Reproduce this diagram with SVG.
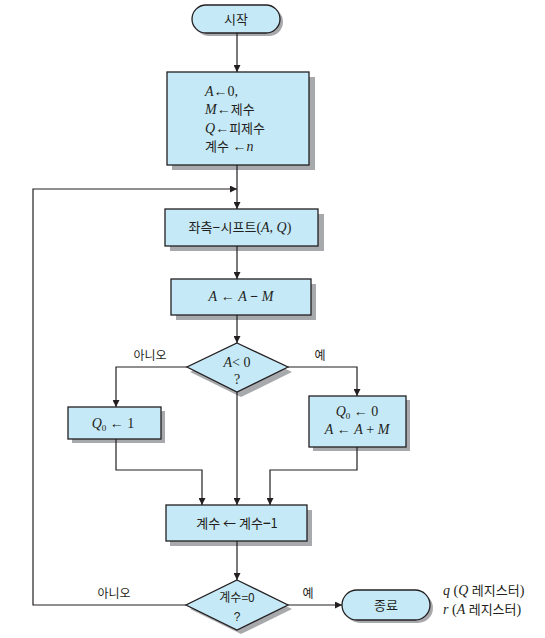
<svg xmlns="http://www.w3.org/2000/svg" width="545" height="638" viewBox="0 0 545 638">
<style>
.bx{fill:#C6E9F8;stroke:#231F20;stroke-width:1.3}
.sh{fill:#A7A9AC}
.ln{fill:none;stroke:#231F20;stroke-width:1.2}
.k{font-family:"Noto Sans CJK KR","Noto Sans",sans-serif;font-size:13px;fill:#231F20}
.m{font-family:"Liberation Serif",serif;font-size:14px;fill:#231F20}
.s{font-family:"Liberation Sans",sans-serif;font-size:12px;fill:#231F20}
.i{font-style:italic}
.b{font-weight:bold}
.lb{font-family:"Noto Sans CJK KR","Noto Sans",sans-serif;font-size:12px;fill:#231F20}
</style>
<defs>
<marker id="ah" viewBox="0 0 10 10" refX="10" refY="5" markerWidth="7" markerHeight="7" markerUnits="userSpaceOnUse" orient="auto">
<path d="M0 0L10 5L0 10Z" fill="#231F20"/>
</marker>
</defs>
<rect width="545" height="638" fill="#fff"/>

<g id="start">
<rect class="sh" x="195" y="8" width="88" height="28" rx="14"/>
<rect class="bx" x="192" y="5" width="88" height="28" rx="14"/>
<text class="k" x="236" y="24" text-anchor="middle">시작</text>
</g>

<g id="init">
<rect class="sh" x="172" y="77" width="143" height="93"/>
<rect class="bx" x="167" y="72" width="142" height="93"/>
<text class="m" x="205" y="96"><tspan class="i">A</tspan>←0,</text>
<text class="m" x="205" y="114"><tspan class="i">M</tspan>←<tspan class="k">제수</tspan></text>
<text class="m" x="205" y="133"><tspan class="i">Q</tspan>←<tspan class="k">피제수</tspan></text>
<text class="m" x="205" y="151"><tspan class="k">계수</tspan> ←<tspan class="i">n</tspan></text>
</g>

<g id="shift">
<rect class="sh" x="170" y="214" width="154" height="37"/>
<rect class="bx" x="165" y="209" width="153" height="37"/>
<text class="m" x="240" y="232" text-anchor="middle"><tspan class="k">좌측</tspan><tspan class="b">−</tspan><tspan class="k">시프트</tspan>(<tspan class="i">A</tspan>, <tspan class="i">Q</tspan>)</text>
</g>

<g id="sub">
<rect class="sh" x="176" y="284" width="140" height="36"/>
<rect class="bx" x="171" y="279" width="140" height="36"/>
<text class="m" x="241" y="301" text-anchor="middle"><tspan class="i">A</tspan> ← <tspan class="i">A</tspan> <tspan class="b">−</tspan> <tspan class="i">M</tspan></text>
</g>

<g id="dec1">
<polygon class="sh" points="241,348 292,372 241,397 190,372"/>
<polygon class="bx" points="237,343 288,367 237,392 187,367"/>
<text class="m" x="237" y="367" text-anchor="middle"><tspan class="i">A</tspan>&lt; 0</text>
<text class="m" x="237" y="384" text-anchor="middle">?</text>
</g>

<g id="q1">
<rect class="sh" x="72" y="411" width="93" height="32"/>
<rect class="bx" x="68" y="407" width="93" height="32"/>
<text class="m" x="113" y="428" text-anchor="middle"><tspan class="i">Q</tspan><tspan font-size="9" dy="3">0</tspan><tspan dy="-3"> ← 1</tspan></text>
</g>

<g id="q0">
<rect class="sh" x="313" y="400" width="97" height="51"/>
<rect class="bx" x="309" y="396" width="97" height="51"/>
<text class="m" x="357" y="416" text-anchor="middle"><tspan class="i">Q</tspan><tspan font-size="9" dy="3">0</tspan><tspan dy="-3"> ← 0</tspan></text>
<text class="m" x="357" y="434" text-anchor="middle"><tspan class="i">A</tspan> ← <tspan class="i">A</tspan> + <tspan class="i">M</tspan></text>
</g>

<g id="count">
<rect class="sh" x="170" y="510" width="142" height="36"/>
<rect class="bx" x="166" y="505" width="141" height="36"/>
<text class="k" x="237" y="528" text-anchor="middle">계수 ← 계수<tspan class="b">−</tspan>1</text>
</g>

<g id="dec2">
<polygon class="sh" points="241,584 292,609 241,634 190,609"/>
<polygon class="bx" points="237,580 288,605 237,630 186,605"/>
<text class="lb" x="237" y="602" text-anchor="middle">계수=0</text>
<text class="s" x="237" y="621" text-anchor="middle">?</text>
</g>

<g id="end">
<rect class="sh" x="345" y="593" width="88" height="30" rx="15"/>
<rect class="bx" x="342" y="590" width="88" height="30" rx="15"/>
<text class="k" x="386" y="610" text-anchor="middle">종료</text>
</g>

<g id="result">
<text class="m" x="443" y="595"><tspan class="i">q</tspan> (<tspan class="i">Q</tspan> <tspan class="k">레지스터</tspan>)</text>
<text class="m" x="443" y="614"><tspan class="i">r</tspan> (<tspan class="i">A</tspan> <tspan class="k">레지스터</tspan>)</text>
</g>

<g id="connectors">
<path class="ln" d="M237 33V72" marker-end="url(#ah)"/>
<path class="ln" d="M237 165V209" marker-end="url(#ah)"/>
<path class="ln" d="M237 246V279" marker-end="url(#ah)"/>
<path class="ln" d="M237 315V343" marker-end="url(#ah)"/>
<path class="ln" d="M187 367H116V407" marker-end="url(#ah)"/>
<path class="ln" d="M288 367H357V396" marker-end="url(#ah)"/>
<path class="ln" d="M237 392V505" marker-end="url(#ah)"/>
<path class="ln" d="M116 439V470H202V505" marker-end="url(#ah)"/>
<path class="ln" d="M357 447V470H270V505" marker-end="url(#ah)"/>
<path class="ln" d="M237 541V580" marker-end="url(#ah)"/>
<path class="ln" d="M288 605H342" marker-end="url(#ah)"/>
<path class="ln" d="M186 605H33V189H237" marker-end="url(#ah)"/>
</g>

<g id="labels">
<text class="lb" x="150" y="360" text-anchor="middle">아니오</text>
<text class="lb" x="320" y="360" text-anchor="middle">예</text>
<text class="lb" x="114" y="598" text-anchor="middle">아니오</text>
<text class="lb" x="308" y="598" text-anchor="middle">예</text>
</g>
</svg>
